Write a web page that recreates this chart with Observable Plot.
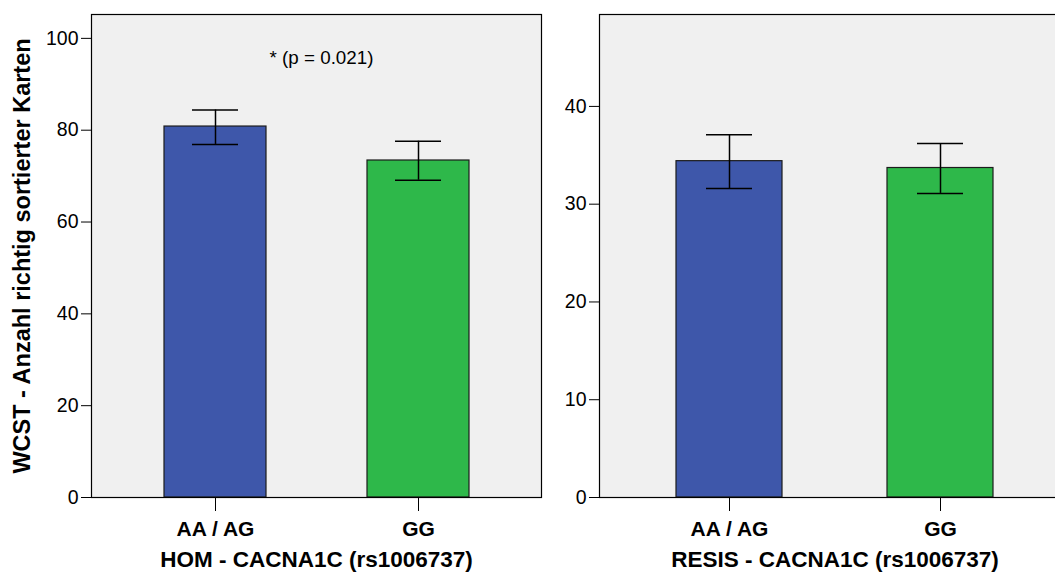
<!DOCTYPE html>
<html>
<head>
<meta charset="utf-8">
<script src="https://cdn.jsdelivr.net/npm/d3@7"></script>
<script src="https://cdn.jsdelivr.net/npm/@observablehq/plot@0.6"></script>
<style>
  html, body { margin: 0; padding: 0; background: #fff; overflow: hidden; }
  #wrap { position: relative; width: 1055px; height: 576px; overflow: hidden; font-family: "Liberation Sans", Arial, sans-serif; }
  #left, #right { position: absolute; top: 0; height: 576px; }
  #left { left: 0; width: 560px; }
  #right { left: 560px; width: 520px; }
  #wrap svg { max-width: none !important; display: block; }
</style>
</head>
<body>
<div id="wrap"><div id="left"></div><div id="right"></div></div>
<script>
const genotypes = ["AA / AG", "GG"];
const colors = ["#3e57aa", "#2eb84a"];
const homMeans = [80.8, 73.4];
const homLow = [76.9, 69.1];
const homHigh = [84.4, 77.6];
const resisMeans = [34.4, 33.7];
const resisLow = [31.6, 31.1];
const resisHigh = [37.1, 36.2];
const homTitle = "HOM - CACNA1C (rs1006737)";
const resisTitle = "RESIS - CACNA1C (rs1006737)";
const yTitle = "WCST - Anzahl richtig sortierter Karten";
const annotation = "* (p = 0.021)";
const homTicks = [0, 20, 40, 60, 80, 100];
const resisTicks = [0, 10, 20, 30, 40];

function rows(means, low, high) {
  return genotypes.map((g, i) => ({g, mean: means[i], lo: low[i], hi: high[i], color: colors[i]}));
}

function panel({data, ticks, yMax, title, width, marginLeft, marginRight, paddingOuter, capInset, extra}) {
  return Plot.plot({
    width, height: 576,
    marginLeft, marginRight, marginTop: 14, marginBottom: 79,
    style: {fontFamily: "'Liberation Sans', Arial, sans-serif", color: "black", background: "transparent", overflow: "visible"},
    x: {domain: genotypes, paddingInner: 0.5, paddingOuter, label: null},
    y: {domain: [0, yMax], label: null},
    marks: [
      Plot.frame({fill: "#f0f0f0", stroke: null}),
      Plot.barY(data, {x: "g", y: "mean", fill: "color", stroke: "#1c1c1c", strokeWidth: 1.2}),
      Plot.ruleX(data, {x: "g", y1: "lo", y2: "hi", stroke: "black", strokeWidth: 1.5}),
      Plot.tickY(data, {x: "g", y: "lo", stroke: "black", strokeWidth: 1.5, insetLeft: capInset, insetRight: capInset}),
      Plot.tickY(data, {x: "g", y: "hi", stroke: "black", strokeWidth: 1.5, insetLeft: capInset, insetRight: capInset}),
      Plot.frame({stroke: "black", strokeWidth: 1.2}),
      Plot.axisY({ticks, tickSize: 10, tickPadding: 3, fontSize: 19.5, label: null, tickFormat: d => String(d)}),
      Plot.axisX({tickSize: 14, tickPadding: 10, fontSize: 21, fontWeight: "bold", label: null}),
      Plot.text([title], {frameAnchor: "bottom", lineAnchor: "bottom", dy: 69, fontSize: 22.5, fontWeight: "bold", text: d => d}),
      ...extra
    ]
  });
}

const left = panel({
  data: rows(homMeans, homLow, homHigh), ticks: homTicks, yMax: 105.2, title: homTitle,
  width: 560, marginLeft: 91, marginRight: 19, paddingOuter: 0.358, capInset: 28,
  extra: [
    Plot.text([yTitle], {frameAnchor: "left", textAnchor: "middle", rotate: -90, dx: -69, lineAnchor: "middle", fontSize: 23.5, fontWeight: "bold", text: d => d}),
    Plot.text([annotation], {frameAnchor: "top", dx: 5, dy: 43.5, lineAnchor: "middle", fontSize: 18.8, text: d => d})
  ]
});
const right = panel({
  data: rows(resisMeans, resisLow, resisHigh), ticks: resisTicks, yMax: 49.4, title: resisTitle,
  width: 520, marginLeft: 39, marginRight: 10, paddingOuter: 0.365, capInset: 30,
  extra: []
});
document.getElementById("left").appendChild(left);
document.getElementById("right").appendChild(right);
</script>
</body>
</html>
